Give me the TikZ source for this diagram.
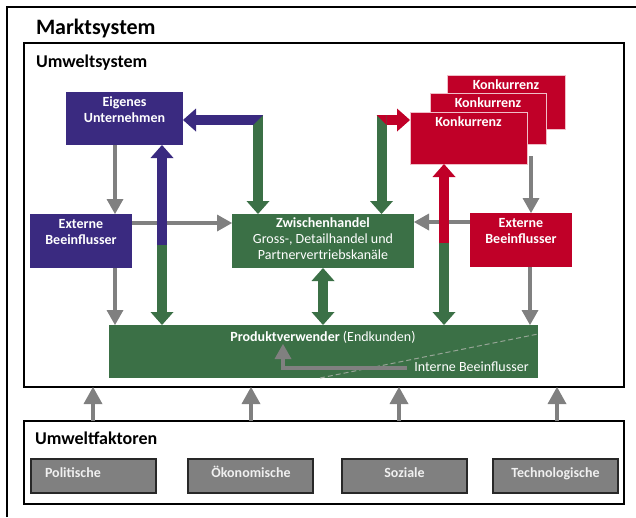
\documentclass[tikz,border=0pt]{standalone}
\usepackage{fontspec}
\setmainfont{Carlito}
\usetikzlibrary{arrows.meta,calc}
\definecolor{cblue}{RGB}{58,42,128}
\definecolor{cgreen}{RGB}{59,112,70}
\definecolor{cred}{RGB}{192,0,40}
\definecolor{agray}{RGB}{128,128,128}
\definecolor{fgray}{RGB}{128,128,128}
\definecolor{fborder}{RGB}{40,40,40}
\definecolor{kline}{RGB}{240,190,200}
\definecolor{dashc}{RGB}{150,165,150}
\begin{document}
\begin{tikzpicture}[x=1pt,y=-1pt,
  every node/.style={inner sep=0pt, outer sep=0pt},
  bluebox/.style={fill=cblue, anchor=north west},
  greenbox/.style={fill=cgreen, anchor=north west},
  redbox/.style={fill=cred, anchor=north west},
  konk/.style={fill=cred, draw=kline, line width=0.8pt, anchor=north west},
  framebox/.style={draw=black, line width=1.2pt},
  fakbox/.style={fill=fgray, draw=fborder, line width=1.2pt, minimum width=125pt, minimum height=34pt, anchor=north west},
  wt/.style={text=white, font=\fontsize{14}{16}\selectfont\bfseries, align=center},
  wtr/.style={text=white, font=\fontsize{14}{16}\selectfont, align=center},
  ftxt/.style={text=white!94!black, font=\fontsize{14}{16}\selectfont\bfseries},
  ttl/.style={font=\fontsize{18}{20}\selectfont\bfseries, anchor=base west},
  garrow/.style={draw=agray, line width=4.5pt, line join=miter, -{Triangle[width=17pt,length=15pt,line width=0pt]}},
  farrow/.style={draw=agray, line width=4pt, -{Triangle[width=19pt,length=17pt,line width=0pt]}},
  fat/.style={line width=10pt},
  fattip/.style={-{Triangle[width=23pt,length=13pt,line width=0pt]}},
  fatboth/.style={{Triangle[width=23pt,length=13pt,line width=0pt]}-{Triangle[width=23pt,length=13pt,line width=0pt]}},
]
\useasboundingbox (0,0) rectangle (636,517);
\fill[white] (0,0) rectangle (636,517);

% outer frame (Marktsystem)
\draw[framebox] (7,517) -- (7,7) -- (636,7);
\node[ttl, font=\fontsize{22}{24}\selectfont\bfseries] (mt) at (36,34) {Marktsystem};

% Umweltsystem frame
\node[framebox, minimum width=600pt, minimum height=344pt, anchor=north west] (umw) at (24,43) {};
\node[ttl] (umwt) at (36,67) {Umweltsystem};

% Umweltfaktoren
\node[framebox, minimum width=600pt, minimum height=83pt, anchor=north west] (fak) at (24,421) {};
\node[ttl] (fakt) at (35,444) {Umweltfaktoren};
\node[fakbox] (pol) at (31,459) {};
\node[fakbox] (oek) at (188,459) {};
\node[fakbox] (soz) at (342,459) {};
\node[fakbox] (tec) at (493,459) {};
\node[ftxt, anchor=base west] (polt) at (45,477) {Politische};
\node[ftxt, anchor=base] (oekt) at (251,477) {Ökonomische};
\node[ftxt, anchor=base] (sozt) at (404.5,477) {Soziale};
\node[ftxt, anchor=base] (tect) at (555.5,477) {Technologische};

\draw[farrow] ([xshift=69pt]fak.north west) -- ([xshift=69pt]umw.south west);
\draw[farrow] ([xshift=227pt]fak.north west) -- ([xshift=227pt]umw.south west);
\draw[farrow] ([xshift=375pt]fak.north west) -- ([xshift=375pt]umw.south west);
\draw[farrow] ([xshift=533pt]fak.north west) -- ([xshift=533pt]umw.south west);

% main boxes
\node[bluebox, minimum width=117pt, minimum height=53pt] (eig) at (66,92) {};
\node[wt] (eigt) at (124.5,110) {Eigenes\\Unternehmen};
\node[bluebox, minimum width=102pt, minimum height=54pt] (extL) at (30,214) {};
\node[wt] (extLt) at (81,232) {Externe\\Beeinflusser};
\node[greenbox, minimum width=182pt, minimum height=54pt] (zw) at (232,214) {};
\node[wtr] (zwt) at (323,239) {\textbf{Zwischenhandel}\\Gross-, Detailhandel und\\Partnervertriebskanäle};
\node[redbox, minimum width=102pt, minimum height=54pt] (extR) at (470,213) {};
\node[wt] (extRt) at (521,231.5) {Externe\\Beeinflusser};

\node[konk, minimum width=118pt, minimum height=54pt] (k3) at (447,75) {};
\node[wt, anchor=base] (k3t) at (506,89) {Konkurrenz};
\node[konk, minimum width=116pt, minimum height=51pt] (k2) at (430,93) {};
\node[wt, anchor=base] (k2t) at (488,107) {Konkurrenz};
\node[konk, minimum width=117pt, minimum height=52pt] (k1) at (410,112) {};
\node[wt, anchor=base] (k1t) at (468.5,126) {Konkurrenz};

\node[greenbox, minimum width=429pt, minimum height=53pt] (prod) at (109,325) {};
\node[wtr, anchor=base] (prodt) at (323,341) {\textbf{Produktverwender} (Endkunden)};
\draw[dashc, line width=1pt, dash pattern=on 5pt off 3pt] ([xshift=211pt]prod.south west) -- ([yshift=-9pt]prod.north east);
\node[wtr, anchor=base] (intt) at (471.5,371) {Interne Beeinflusser};
\draw[garrow] ([xshift=298pt,yshift=10pt]prod.south west) -- ([xshift=174pt,yshift=10pt]prod.south west) -- ([xshift=174pt,yshift=34pt]prod.south west);

% gray arrows
\draw[garrow] ([xshift=49pt]eig.south west) -- ([xshift=85pt]extL.north west);
\draw[garrow] ([xshift=85pt]extL.south west) -- ([xshift=6pt]prod.north west);
\draw[garrow] ([yshift=18pt]extL.east) -- ([yshift=18pt]zw.west);
\draw[garrow] ([yshift=18pt]extR.west) -- ([yshift=18pt]extR.west -| zw.east);
\draw[garrow] ([xshift=101pt,yshift=-12pt]k2.south west) -- ([xshift=61pt]extR.north west);
\draw[garrow] ([xshift=60pt]extR.south west) -- ([xshift=421pt]prod.north west);

% thick coloured connectors
\coordinate (lm) at ([xshift=53pt,yshift=80pt]prod.north west);
\draw[fat, cgreen, fattip] (lm) -- ([xshift=53pt]prod.north west);
\draw[fat, cblue, fattip] (lm) -- ([xshift=96pt]eig.south west);

\coordinate (rm) at ([xshift=335pt,yshift=82pt]prod.north west);
\draw[fat, cgreen, fattip] (rm) -- ([xshift=335pt]prod.north west);
\draw[fat, cred, fattip] (rm) -- ([xshift=34pt]k1.south west);

\draw[fat, cgreen, fatboth] (zw.south) -- (zw.south |- prod.north);

\coordinate (cl) at ([xshift=26pt,yshift=94pt]zw.north west);
\draw[fat, cgreen, fattip] ([yshift=5pt]cl) -- ([xshift=26pt]zw.north west);
\fill[cblue] ([xshift=-5pt,yshift=5pt]cl) -- ([xshift=5pt,yshift=5pt]cl) -- ([xshift=-5pt,yshift=-5pt]cl) -- cycle;
\draw[fat, cblue, fattip] ([xshift=-5pt]cl) -- (cl -| eig.east);

\coordinate (cr) at ([xshift=149.5pt,yshift=94pt]zw.north west);
\draw[fat, cgreen, fattip] ([yshift=5pt]cr) -- ([xshift=149.5pt]zw.north west);
\fill[cred] ([xshift=-5pt,yshift=5pt]cr) -- ([xshift=5pt,yshift=5pt]cr) -- ([xshift=5pt,yshift=-5pt]cr) -- cycle;
\draw[fat, cred, fattip] ([xshift=5pt]cr) -- (cr -| k1.west);
\end{tikzpicture}
\end{document}
